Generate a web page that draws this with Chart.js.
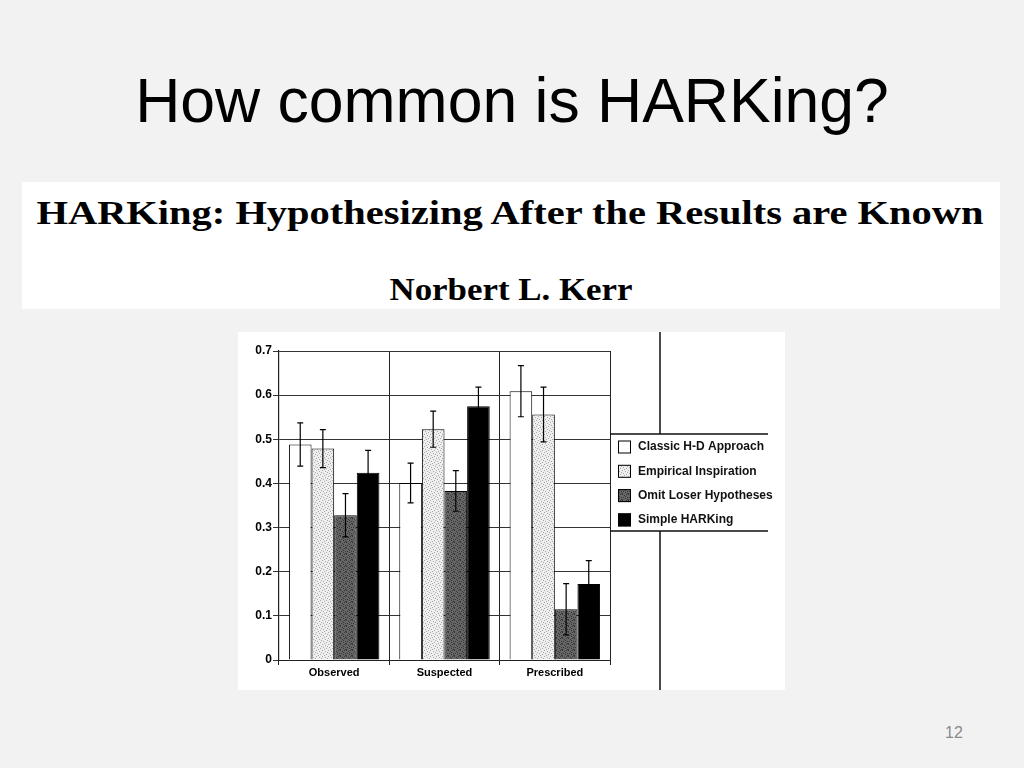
<!DOCTYPE html>
<html>
<head>
<meta charset="utf-8">
<script src="https://cdn.jsdelivr.net/npm/chart.js"></script>
<style>
  html, body { margin: 0; padding: 0; }
  body { width: 1024px; height: 768px; background: #f2f2f2; position: relative; overflow: hidden; }
  .title { position: absolute; left: 0; width: 1024px; top: 69px; text-align: center;
           font: 62.5px/62px "Liberation Sans", Arial, sans-serif; color: #000; }
  .banner { position: absolute; left: 22px; top: 182px; width: 978px; height: 127px; background: #fff; }
  .paper { position: absolute; left: 0; width: 1024px; text-align: center; color: #000;
           font-family: "Liberation Serif", "Times New Roman", serif; font-weight: bold; }
  .paper.t1 { top: 196px; font-size: 34px; line-height: 34px; transform: translateX(-2px) scaleX(1.19); }
  .paper.t2 { top: 273px; font-size: 32px; line-height: 32px; transform: translateX(-1px) scaleX(1.09); }
  .figure { position: absolute; left: 238px; top: 332px; width: 547px; height: 358px; background: #fff; }
  .pagenum { position: absolute; left: 930px; width: 48px; top: 725px; text-align: center;
             font: 16px/16px "Liberation Sans", Arial, sans-serif; color: #8a8a8a; }
</style>
</head>
<body>
<div class="title">How common is HARKing?</div>
<div class="banner"></div>
<div class="paper t1">HARKing: Hypothesizing After the Results are Known</div>
<div class="paper t2">Norbert L. Kerr</div>
<div class="figure"><canvas id="myChart"></canvas></div>
<div class="pagenum">12</div>

<script>
document.addEventListener("DOMContentLoaded", function () {
  const categories = ["Observed", "Suspected", "Prescribed"];
  const seriesNames = ["Classic H-D Approach", "Empirical Inspiration", "Omit Loser Hypotheses", "Simple HARKing"];

  // bar heights
  const classicValues   = [0.488, 0.401, 0.609];
  const empiricalValues = [0.479, 0.523, 0.556];
  const omitValues      = [0.328, 0.383, 0.115];
  const simpleValues    = [0.424, 0.575, 0.172];

  // half-length of each error bar
  const classicErr   = [0.049, 0.045, 0.058];
  const empiricalErr = [0.043, 0.041, 0.062];
  const omitErr      = [0.049, 0.046, 0.058];
  const simpleErr    = [0.051, 0.043, 0.053];

  const yTicks = [0, 0.1, 0.2, 0.3, 0.4, 0.5, 0.6, 0.7];

  const canvas = document.getElementById("myChart");
  const ctx = canvas.getContext("2d");

  // stippled fills like the scanned figure
  function stipple(base, dots, cells) {
    const tile = document.createElement("canvas");
    tile.width = 6; tile.height = 6;
    const t = tile.getContext("2d");
    t.fillStyle = base;
    t.fillRect(0, 0, 6, 6);
    t.fillStyle = dots;
    cells.forEach(function (c) { t.fillRect(c[0], c[1], 1, 1); });
    return ctx.createPattern(tile, "repeat");
  }
  const lightFill = stipple("#eeeeee", "#a8a8a8", [[0,0],[3,1],[1,3],[4,4],[5,2],[2,5]]);
  const darkFill  = stipple("#666666", "#383838", [[0,0],[2,1],[4,0],[1,3],[3,2],[5,3],[0,5],[3,4],[5,5]]);

  const fills = ["#ffffff", lightFill, darkFill, "#000000"];
  const values = [classicValues, empiricalValues, omitValues, simpleValues];
  const errors = [classicErr, empiricalErr, omitErr, simpleErr];

  const errorBars = {
    id: "errorBars",
    afterDatasetsDraw(chart) {
      const c = chart.ctx;
      const y = chart.scales.y;
      c.save();
      c.strokeStyle = "#000";
      c.lineWidth = 1.2;
      chart.data.datasets.forEach(function (ds, di) {
        chart.getDatasetMeta(di).data.forEach(function (bar, i) {
          const v = ds.data[i], e = errors[di][i];
          const top = y.getPixelForValue(v + e);
          const bot = y.getPixelForValue(v - e);
          c.beginPath();
          c.moveTo(bar.x, top); c.lineTo(bar.x, bot);
          c.moveTo(bar.x - 3, top); c.lineTo(bar.x + 3, top);
          c.moveTo(bar.x - 3, bot); c.lineTo(bar.x + 3, bot);
          c.stroke();
        });
      });
      c.restore();
    }
  };

  const legendAndRules = {
    id: "legendAndRules",
    afterDraw(chart) {
      const c = chart.ctx;
      const area = chart.chartArea;
      c.save();
      // figure rules around the legend
      c.strokeStyle = "#111";
      c.lineWidth = 1.5;
      c.beginPath();
      c.moveTo(422, 0); c.lineTo(422, 102);
      c.moveTo(422, 199); c.lineTo(422, chart.height);
      c.moveTo(area.right, 102); c.lineTo(530, 102);
      c.moveTo(area.right, 199); c.lineTo(530, 199);
      c.stroke();
      // legend
      c.font = "bold 12px 'Liberation Sans', Arial, sans-serif";
      c.textBaseline = "middle";
      c.textAlign = "left";
      chart.data.datasets.forEach(function (ds, di) {
        const cy = 115 + di * 24.3;
        c.fillStyle = ds.backgroundColor;
        c.fillRect(380, cy - 6.5, 13, 13);
        c.strokeStyle = "#000";
        c.lineWidth = 1;
        c.strokeRect(380.5, cy - 6, 12, 12);
        c.fillStyle = "#111";
        c.fillText(ds.label, 400, cy);
      });
      c.restore();
    }
  };

  new Chart(ctx, {
    type: "bar",
    data: {
      labels: categories,
      datasets: seriesNames.map(function (name, i) {
        return {
          label: name,
          data: values[i],
          backgroundColor: fills[i],
          borderColor: "#000",
          borderWidth: 1,
          borderSkipped: "bottom",
          categoryPercentage: 0.82,
          barPercentage: 1
        };
      })
    },
    options: {
      responsive: true,
      maintainAspectRatio: false,
      animation: false,
      layout: { padding: { top: 19, right: 175, left: 0, bottom: 0 } },
      plugins: {
        legend: { display: false },
        tooltip: { enabled: false }
      },
      scales: {
        x: {
          grid: { color: "#222", lineWidth: 1, offset: true, tickLength: 5, drawOnChartArea: true },
          border: { color: "#222", width: 1 },
          ticks: {
            color: "#000",
            font: { family: "'Liberation Sans', Arial, sans-serif", size: 11, weight: "bold" },
            padding: 1
          },
          afterFit: function (scale) { scale.height = 30; }
        },
        y: {
          min: 0,
          max: 0.7,
          afterBuildTicks: function (scale) { scale.ticks = yTicks.map(function (v) { return { value: v }; }); },
          grid: { color: "#333", lineWidth: 1, tickLength: 6 },
          border: { color: "#222", width: 1.2 },
          ticks: {
            color: "#000",
            padding: 1,
            font: { family: "'Liberation Sans', Arial, sans-serif", size: 12, weight: "bold" },
            callback: function (v) { return v === 0 ? "0" : v.toFixed(1); }
          },
          afterFit: function (scale) { scale.width = 41; }
        }
      }
    },
    plugins: [errorBars, legendAndRules]
  });
});
</script>
</body>
</html>
